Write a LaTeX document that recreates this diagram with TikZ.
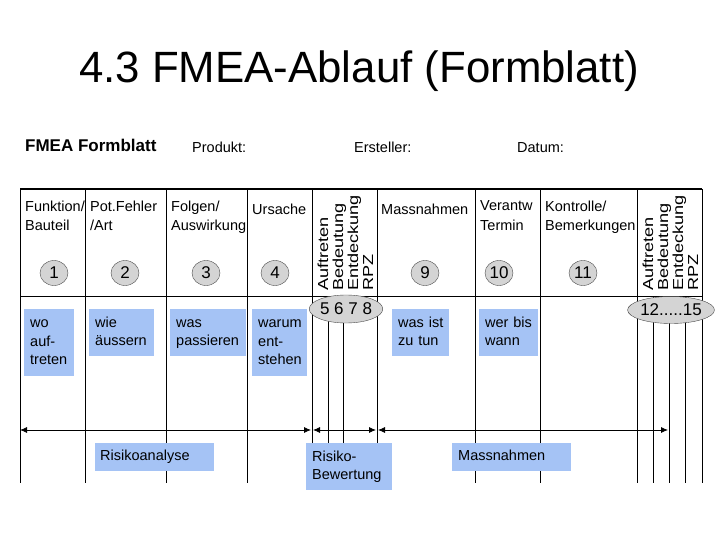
\documentclass[tikz,border=0pt]{standalone}
\usepackage{fontspec}
\setmainfont{Liberation Sans}
\usepackage{xcolor,tikz}
\usetikzlibrary{arrows.meta,positioning,shapes.geometric}
\definecolor{note}{HTML}{A5C3F5}
\definecolor{disc}{HTML}{D4D4D4}
\definecolor{rim}{HTML}{4A4A4A}

\begin{document}
\begin{tikzpicture}[x=1pt,y=-1pt,font=\fontsize{14.5}{19.5}\selectfont,
txt/.style={inner sep=0,anchor=north west,align=left,execute at begin node=\strut},
vert/.style={inner sep=0,anchor=north west,align=left,rotate=90,xscale=1.25,
font=\fontsize{14.5}{15}\selectfont},
num/.style={ellipse,draw=rim,fill=disc,inner sep=0,minimum width=28pt,
minimum height=25pt,font=\fontsize{17}{17}\selectfont},
memo/.style={fill=note,anchor=north west,align=left,inner xsep=6pt,inner ysep=0pt,
font=\fontsize{14.5}{18.5}\selectfont,execute at begin node=\strut,execute at end node=\strut},
tabline/.style={line width=0.8pt},
arr/.style={{Latex[length=7pt,width=6pt]}-{Latex[length=7pt,width=6pt]},line width=0.8pt}]
\useasboundingbox (0,0) rectangle (720,540);
\node[anchor=base,inner sep=0,font=\fontsize{43.8}{50}\selectfont] (title) at (359,83) {4.3 FMEA-Ablauf (Formblatt)};
\node[anchor=base west,inner sep=0,font=\fontsize{17}{20}\selectfont\bfseries] (sheet) at (25,152) {FMEA Formblatt};
\node[anchor=base west,inner sep=0] (produkt) at (192,153) {Produkt:};
\node[anchor=base west,inner sep=0] (ersteller) at (354,153) {Ersteller:};
\node[anchor=base west,inner sep=0] (datum) at (517,153) {Datum:};
\foreach \x in {20,85,166,247,312,377,475,540,637,702}
  \draw[tabline] (\x,189) -- (\x,483);
\foreach \x in {328,343}
  \draw[tabline] (\x,296) -- (\x,443);
\foreach \x in {653,669,685}
  \draw[tabline] (\x,296) -- (\x,483);
\draw[line width=2pt] (20,189) -- (702,189);
\draw[tabline] (20,296) -- (702,296);
\node[txt] (funktion) at (25,200.4) {Funktion/\\Bauteil};
\node[txt] (fehler) at (90,200.4) {Pot.Fehler\\/Art};
\node[txt] (folgen) at (171,200.4) {Folgen/\\Auswirkung};
\node[txt] (ursache) at (252,200.4) {Ursache};
\node[vert] (bewertung) at (317.5,291) {Auftreten\\Bedeutung\\Entdeckung\\RPZ};
\node[txt] (massnahmen) at (381,200.4) {Massnahmen};
\node[txt] (verantw) at (480,200.4) {Verantw\\Termin};
\node[txt] (kontrolle) at (545,200.4) {Kontrolle/\\Bemerkungen};
\node[vert] (neubewertung) at (642.5,291) {Auftreten\\Bedeutung\\Entdeckung\\RPZ};
\node[num] (n1) at (54,273) {1};
\node[num] (n2) at (125,273) {2};
\node[num] (n3) at (206,273) {3};
\node[num] (n4) at (275,273) {4};
\node[num] (n9) at (425,273) {9};
\node[num] (n10) at (499,273) {10};
\node[num] (n11) at (583,273) {11};
\node[num,minimum width=68pt,minimum height=28pt] (n5) at (346,309) {5 6 7 8};
\node[num,minimum width=68pt,minimum height=27pt] (n12) at (671,310) {12.....15};
\node[memo,text width=38pt,minimum height=67pt] (wo) at (24,309) {wo\\auf-\\treten};
\node[memo,text width=53pt,minimum height=47pt] (wie) at (89,309) {wie\\äussern};
\node[memo,text width=64pt,minimum height=47pt] (was) at (170,309) {was\\passieren};
\node[memo,text width=43pt,minimum height=67pt] (warum) at (252,309) {warum\\ent-\\stehen};
\node[memo,text width=45pt,minimum height=47pt] (tun) at (392,309) {was~ist\\zu~tun};
\node[memo,text width=47pt,minimum height=47pt] (wann) at (479,309) {wer~bis\\wann};
\coordinate (ra) at (20,430);
\coordinate (rb) at (311,430);
\coordinate (bw) at (313,430);
\coordinate (be) at (376,430);
\coordinate (ma) at (378,430);
\coordinate (mb) at (668,430);
\draw[arr] (ra) -- (rb);
\draw[arr] (bw) -- (be);
\draw[arr] (ma) -- (mb);
\node[memo,inner xsep=5pt,text width=109pt,minimum height=28pt] (analyse) at (95,443) {Risikoanalyse};
\node[memo,text width=74pt,minimum height=47pt] (risiko) at (306,443) {Risiko-\\Bewertung};
\node[memo,text width=107pt,minimum height=28pt] (mass) at (452,443) {Massnahmen};
\end{tikzpicture}
\end{document}
